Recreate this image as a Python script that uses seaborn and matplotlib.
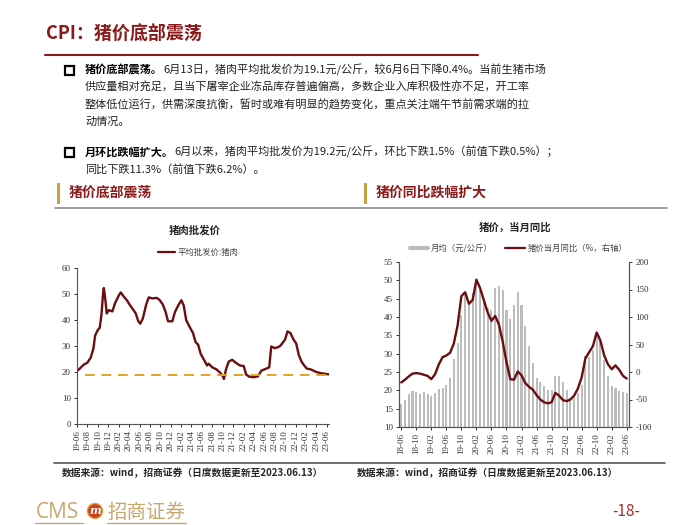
import matplotlib
matplotlib.use("Agg")
import matplotlib.pyplot as plt
from matplotlib.lines import Line2D
from matplotlib.patches import Rectangle, Ellipse
import numpy as np
import pandas as pd
import seaborn as sns

# 数据：猪肉批发价（左图，日度数据按读数取点）
price_dates = [
    "2019-06-01", "2019-06-20", "2019-07-10", "2019-08-01", "2019-08-20", "2019-09-05",
    "2019-09-15", "2019-10-01", "2019-10-12", "2019-10-22", "2019-11-01", "2019-11-05",
    "2019-11-12", "2019-11-22", "2019-12-05", "2019-12-25", "2020-01-10", "2020-02-01",
    "2020-02-12", "2020-03-01", "2020-03-20", "2020-04-05", "2020-04-25", "2020-05-10",
    "2020-05-25", "2020-06-05", "2020-06-20", "2020-07-10", "2020-07-25", "2020-08-15",
    "2020-09-10", "2020-09-25", "2020-10-15", "2020-11-01", "2020-11-15", "2020-12-10",
    "2020-12-25", "2021-01-15", "2021-02-01", "2021-02-15", "2021-03-01", "2021-03-20",
    "2021-04-10", "2021-04-25", "2021-05-10", "2021-05-25", "2021-06-15", "2021-07-01",
    "2021-07-10", "2021-08-01", "2021-08-25", "2021-09-15", "2021-10-01", "2021-10-08",
    "2021-10-20", "2021-11-05", "2021-11-25", "2021-12-20", "2022-01-10", "2022-02-01",
    "2022-02-15", "2022-03-05", "2022-04-01", "2022-04-25", "2022-05-15", "2022-06-05",
    "2022-06-30", "2022-07-12", "2022-08-01", "2022-08-20", "2022-09-05", "2022-10-01",
    "2022-10-15", "2022-11-01", "2022-11-20", "2022-12-05", "2022-12-20", "2023-01-05",
    "2023-01-20", "2023-02-05", "2023-03-01", "2023-04-01", "2023-05-01", "2023-06-13",
]
price_values = [
    20.3, 21.5, 22.8, 23.6, 25.5, 29.0,
    34.0, 36.2, 37.0, 42.0, 50.5, 52.3,
    49.0, 42.5, 43.8, 43.3, 46.5, 49.5,
    50.6, 49.0, 47.5, 45.8, 44.0, 42.5,
    39.5, 38.6, 40.5, 46.0, 48.7, 48.3,
    48.5, 47.8, 46.0, 43.0, 39.5, 39.5,
    43.0, 45.8, 47.6, 45.5, 40.0, 37.5,
    35.0, 31.5, 30.5, 27.0, 24.5, 22.5,
    23.2, 21.8, 21.0, 19.8, 18.5, 17.3,
    21.0, 24.0, 24.7, 23.4, 22.5, 22.3,
    19.0, 18.2, 18.0, 18.3, 20.5, 21.1,
    21.8, 29.8, 29.2, 29.5, 30.2, 32.5,
    35.6, 35.0, 32.4, 31.0, 26.6, 24.0,
    22.6, 21.3, 21.0, 20.0, 19.5, 19.1,
]
floor_level = 18.8
floor_span = ["2019-07-15", "2023-06-25"]

# 数据：月均价与当月同比（右图）
months = list(pd.date_range("2018-06-01", "2023-06-01", freq="MS").strftime("%y-%m"))
monthly_price = [
    16.4, 17.3, 19.0, 19.7, 19.5, 19.0, 19.5, 19.1, 18.4, 19.3,
    20.4, 20.7, 21.5, 23.5, 28.5, 33.0, 40.5, 46.0, 44.0, 46.5,
    49.0, 47.5, 45.0, 42.5, 42.0, 47.9, 48.5, 47.5, 41.8, 39.5,
    43.3, 46.8, 43.3, 37.5, 32.0, 27.5, 23.4, 22.2, 21.3, 20.0,
    20.0, 24.0, 24.0, 22.2, 20.2, 17.9, 17.9, 19.3, 21.5, 29.3,
    29.0, 30.9, 35.2, 33.8, 28.4, 23.8, 21.3, 20.6, 19.7, 19.5,
    19.3,
]
yoy = [
    -19, -14, -8, -3, -2, -3, -5, -7, -13, -4,
    14, 27, 30, 35, 52, 85, 138, 145, 124, 131,
    168, 152, 130, 108, 93, 102, 86, 55, 18, -13,
    -14, 1, -6, -20, -27, -32, -42, -50, -55, -57,
    -55, -38, -43, -51, -53, -50, -43, -30, -10, 25,
    36, 47, 72, 57, 30, 14, 5, 12, 4, -7,
    -12,
]

W, H = 700, 525
DARK_RED = "#8B1A1A"
LINE_RED = "#6A0E12"
GOLD = "#C9A66B"
BAR_GREY = "#BDBDBD"
CJK = ["Noto Sans CJK SC", "DejaVu Sans"]
NUM = ["Liberation Serif", "Noto Sans CJK SC"]

sns.set_theme(style="white")
plt.rcParams["font.family"] = CJK
plt.rcParams["axes.unicode_minus"] = False


def fx(x):
    return x / W


def fy(y):
    return 1 - y / H


def hline(fig, x0, x1, y, **kw):
    fig.add_artist(Line2D([fx(x0), fx(x1)], [fy(y), fy(y)], transform=fig.transFigure, **kw))


fig = plt.figure(figsize=(7, 5.25), dpi=100)
fig.patch.set_facecolor("white")
renderer = fig.canvas.get_renderer()

# 标题
fig.text(fx(46), fy(33), "CPI：猪价底部震荡", fontsize=13, color=DARK_RED,
         weight="bold", va="center")
hline(fig, 45, 478, 55, color=DARK_RED, lw=1.5)

# 正文
paragraphs = [
    (70, "猪价底部震荡。", [
        "6月13日，猪肉平均批发价为19.1元/公斤，较6月6日下降0.4%。当前生猪市场",
        "供应量相对充足，且当下屠宰企业冻品库存普遍偏高，多数企业入库积极性亦不足，开工率",
        "整体低位运行，供需深度抗衡，暂时或难有明显的趋势变化，重点关注端午节前需求端的拉",
        "动情况。",
    ]),
    (152, "月环比跌幅扩大。", [
        "6月以来，猪肉平均批发价为19.2元/公斤，环比下跌1.5%（前值下跌0.5%）；",
        "同比下跌11.3%（前值下跌6.2%）。",
    ]),
]
line_gap = 17.3
for y0, head, lines in paragraphs:
    fig.add_artist(Rectangle((fx(65), fy(y0 + 4.5)), 9 / W, 9 / H, transform=fig.transFigure,
                             fill=False, edgecolor="black", lw=1.6))
    t = fig.text(fx(85), fy(y0), head, fontsize=8, weight="bold", color="black", va="center")
    x_next = t.get_window_extent(renderer=renderer).x1 / fig.bbox.width
    fig.text(x_next, fy(y0), lines[0], fontsize=8, color="#222222", va="center")
    for i, ln in enumerate(lines[1:], start=1):
        fig.text(fx(85), fy(y0 + i * line_gap), ln, fontsize=8, color="#222222", va="center")

# 小标题
for bx, label in [(57, "猪价底部震荡"), (364, "猪价同比跌幅扩大")]:
    fig.add_artist(Rectangle((fx(bx), fy(204)), 3 / W, 21 / H, transform=fig.transFigure,
                             color="#C8A040", lw=0))
    fig.text(fx(bx + 12), fy(193), label, fontsize=10, weight="bold", color=DARK_RED, va="center")
hline(fig, 55, 667, 208, color="#8C8C8C", lw=1.2)

# 左图：猪肉批发价
ax1 = fig.add_axes([fx(77), fy(424), (329 - 77) / W, (424 - 268) / H])
df_left = pd.DataFrame({"date": pd.to_datetime(price_dates), "price": price_values})
sns.lineplot(data=df_left, x="date", y="price", ax=ax1, color=LINE_RED, lw=1.7)
ax1.plot(pd.to_datetime(floor_span), [floor_level, floor_level], color="#E0A526",
         lw=1.4, dashes=(5, 3.5))
ax1.set_ylim(0, 60)
ax1.set_yticks(range(0, 61, 10))
ax1.set_xlim(pd.Timestamp("2019-06-01"), pd.Timestamp("2023-06-15"))
tick_dates = pd.date_range("2019-06-01", "2023-06-01", freq="2MS")
ax1.set_xticks(tick_dates)
ax1.set_xticklabels(tick_dates.strftime("%y-%m"), rotation=90)
ax1.set_xlabel("")
ax1.set_ylabel("")
for s in ["top", "right"]:
    ax1.spines[s].set_visible(False)
for s in ["left", "bottom"]:
    ax1.spines[s].set_color("#555555")
    ax1.spines[s].set_linewidth(0.8)
ax1.tick_params(axis="both", labelsize=6.5, colors="#333333", length=2.5, width=0.7,
                direction="out", left=True, bottom=True, pad=2)
for lab in ax1.get_xticklabels() + ax1.get_yticklabels():
    lab.set_fontfamily(NUM)

fig.text(fx(195), fy(230), "猪肉批发价", fontsize=7.5, weight="bold", ha="center", va="center")
hline(fig, 158, 175, 252, color=LINE_RED, lw=1.6)
fig.text(fx(178), fy(252), "平均批发价:猪肉", fontsize=6, color="#444444", va="center")

# 右图：月均价与同比
ax2 = fig.add_axes([fx(399), fy(427), (629 - 399) / W, (427 - 262) / H])
df_right = pd.DataFrame({"month": months, "price": monthly_price, "yoy": yoy})
sns.barplot(data=df_right, x="month", y="price", ax=ax2, color=BAR_GREY,
            saturation=1, width=0.55, linewidth=0, edgecolor=BAR_GREY)
ax2.set_ylim(10, 55)
ax2.set_yticks(range(10, 56, 5))
ax3 = ax2.twinx()
sns.lineplot(x=np.arange(len(months)), y=df_right["yoy"], ax=ax3, color=LINE_RED, lw=1.7)
ax3.set_ylim(-100, 200)
ax3.set_yticks(range(-100, 201, 50))
ax2.set_xlim(-0.6, len(months) - 0.4)
ax2.set_xticks(range(0, len(months), 4))
ax2.set_xticklabels(months[::4], rotation=90)
for a in (ax2, ax3):
    a.set_xlabel("")
    a.set_ylabel("")
    a.spines["top"].set_visible(False)
    for s in ["left", "bottom", "right"]:
        a.spines[s].set_color("#555555")
        a.spines[s].set_linewidth(0.8)
    a.tick_params(axis="both", labelsize=6.5, colors="#333333", length=2.5, width=0.7,
                  direction="out", pad=2)
    a.grid(False)
ax2.tick_params(left=True, bottom=True)
ax3.tick_params(right=True)
for lab in ax2.get_xticklabels() + ax2.get_yticklabels() + ax3.get_yticklabels():
    lab.set_fontfamily(NUM)

fig.text(fx(515), fy(228), "猪价，当月同比", fontsize=7.5, weight="bold", ha="center", va="center")
hline(fig, 410, 428, 248, color=BAR_GREY, lw=3)
fig.text(fx(431), fy(248), "月均（元/公斤）", fontsize=6, color="#444444", va="center")
hline(fig, 505, 525, 248, color=LINE_RED, lw=1.6)
fig.text(fx(528), fy(248), "猪价当月同比（%，右轴）", fontsize=6, color="#444444", va="center")

# 数据来源
hline(fig, 54, 665, 463, color="#555555", lw=1.2)
source = "数据来源：wind，招商证券（日度数据更新至2023.06.13）"
fig.text(fx(62), fy(473), source, fontsize=7, weight="bold", va="center")
fig.text(fx(357), fy(473), source, fontsize=7, weight="bold", va="center")

# 页脚标志与页码
fig.text(fx(36), fy(512), "CMS", fontsize=15, color=GOLD, va="center", family=["Open Sans"])
fig.add_artist(Ellipse((fx(95), fy(511)), 15 / W, 15 / H, transform=fig.transFigure,
                       facecolor="#C8401E", edgecolor="#E0A040", lw=1))
fig.text(fx(95), fy(511), "m", fontsize=8, color="white", weight="bold", style="italic",
         ha="center", va="center", family=["DejaVu Serif"])
fig.text(fx(107), fy(512), "招商证券", fontsize=14, color=GOLD, va="center")
hline(fig, 35, 83, 523, color=GOLD, lw=1)
hline(fig, 107, 186, 523, color=GOLD, lw=1)
fig.text(fx(626), fy(512), "-18-", fontsize=11, color="#A0302A", ha="center", va="center")

fig.savefig("out.png", dpi=100)
